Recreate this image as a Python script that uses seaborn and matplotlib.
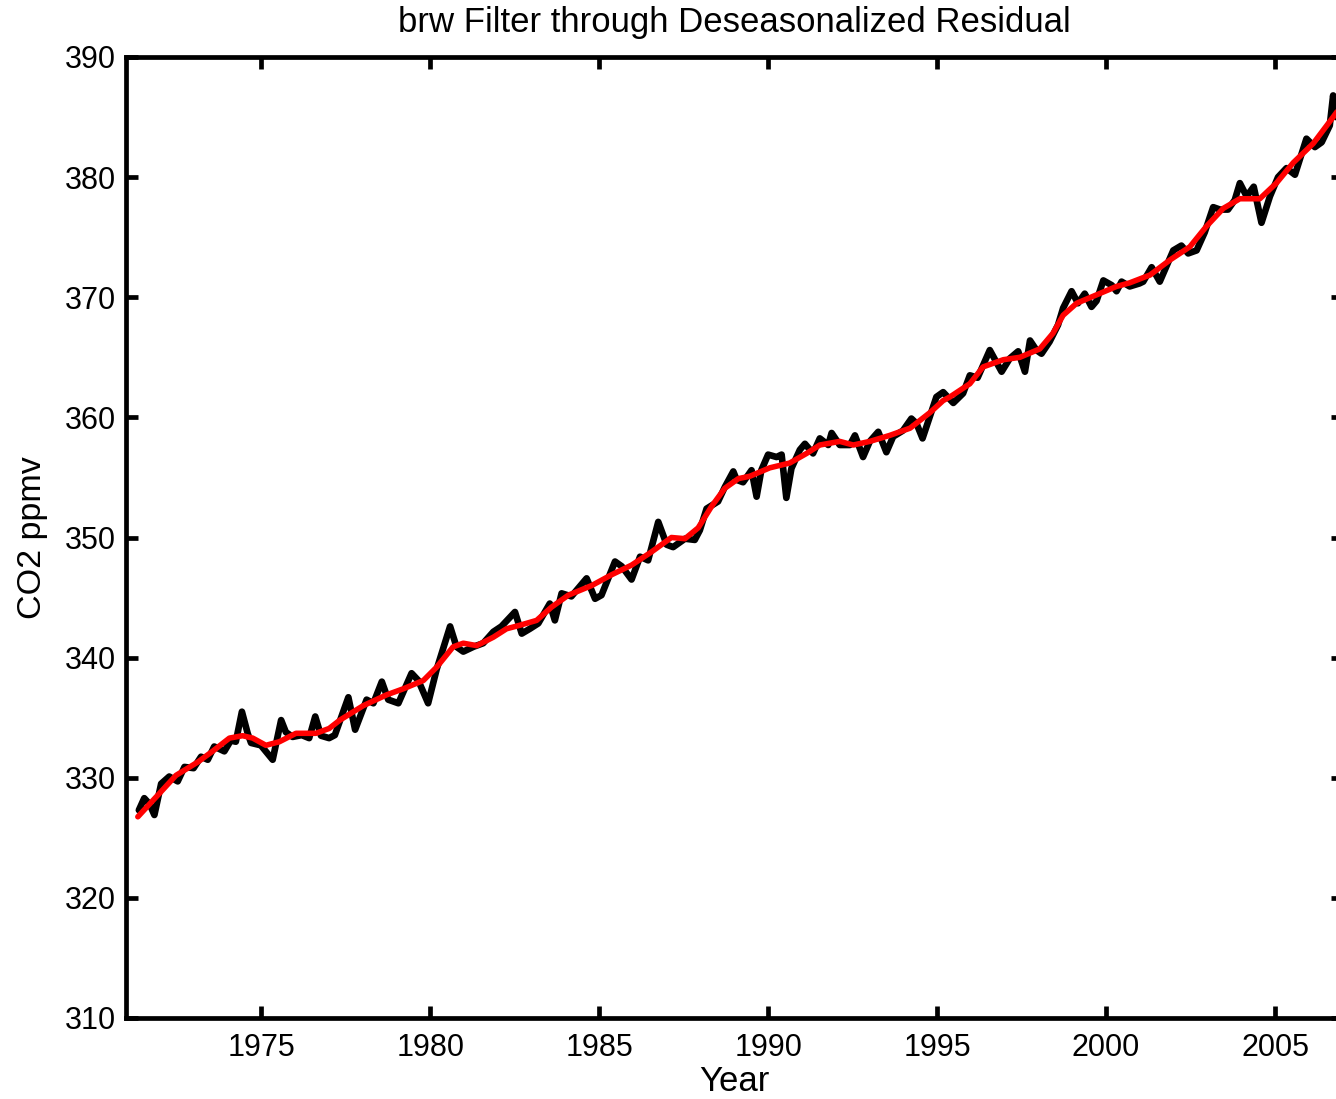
import matplotlib
matplotlib.use("Agg")
import matplotlib.pyplot as plt
import seaborn as sns
import pandas as pd

# Deseasonalized residual (black)
resid_year = [1971.38, 1971.54, 1971.70, 1971.84, 1972.04, 1972.28, 1972.53, 1972.73, 1973.00, 1973.22,
              1973.42, 1973.61, 1973.91, 1974.10, 1974.25, 1974.43, 1974.60, 1974.70, 1974.99, 1975.34,
              1975.59, 1975.73, 1975.93, 1976.20, 1976.42, 1976.60, 1976.77, 1977.01, 1977.18, 1977.58,
              1977.78, 1978.12, 1978.32, 1978.57, 1978.76, 1979.06, 1979.45, 1979.65, 1979.94, 1980.19,
              1980.59, 1980.78, 1980.98, 1981.28, 1981.57, 1981.87, 1982.11, 1982.51, 1982.71, 1982.95,
              1983.20, 1983.54, 1983.69, 1983.89, 1984.18, 1984.63, 1984.88, 1985.07, 1985.47, 1985.67,
              1985.96, 1986.21, 1986.45, 1986.75, 1987.00, 1987.19, 1987.54, 1987.83, 1987.98, 1988.18,
              1988.52, 1988.72, 1988.97, 1989.07, 1989.26, 1989.51, 1989.66, 1989.80, 1990.00, 1990.25,
              1990.40, 1990.54, 1990.69, 1990.94, 1991.09, 1991.33, 1991.53, 1991.78, 1991.88, 1992.12,
              1992.42, 1992.57, 1992.81, 1993.01, 1993.26, 1993.50, 1993.70, 1993.99, 1994.24, 1994.39,
              1994.57, 1994.79, 1994.98, 1995.18, 1995.48, 1995.77, 1995.97, 1996.20, 1996.56, 1996.91,
              1997.15, 1997.40, 1997.60, 1997.75, 1997.94, 1998.09, 1998.33, 1998.58, 1998.73, 1998.98,
              1999.17, 1999.37, 1999.57, 1999.72, 1999.92, 2000.17, 2000.31, 2000.46, 2000.70, 2000.99,
              2001.10, 2001.35, 2001.59, 2001.99, 2002.23, 2002.43, 2002.68, 2002.92, 2003.17, 2003.37,
              2003.61, 2003.81, 2003.96, 2004.16, 2004.37, 2004.60, 2004.85, 2005.09, 2005.34, 2005.59,
              2005.93, 2006.18, 2006.38, 2006.62, 2006.72, 2006.80]
resid_co2 = [327.3, 328.3, 327.8, 326.9, 329.5, 330.1, 329.7, 330.9, 330.8, 331.75,
             331.5, 332.6, 332.2, 333.1, 333.0, 335.5, 333.7, 332.9, 332.7, 331.5,
             334.8, 333.8, 333.4, 333.55, 333.3, 335.1, 333.5, 333.3, 333.55, 336.7,
             334.0, 336.5, 336.2, 338.0, 336.5, 336.2, 338.7, 338.1, 336.2, 339.0,
             342.6, 340.9, 340.5, 340.9, 341.2, 342.15, 342.6, 343.8, 342.0, 342.4,
             342.85, 344.5, 343.1, 345.35, 345.1, 346.6, 344.9, 345.2, 348.0, 347.6,
             346.5, 348.4, 348.1, 351.3, 349.4, 349.2, 349.9, 349.8, 350.6, 352.4,
             353.0, 354.2, 355.5, 354.8, 354.6, 355.6, 353.4, 355.6, 356.9, 356.7,
             356.9, 353.3, 355.75, 357.3, 357.8, 357.0, 358.25, 357.7, 358.7, 357.7,
             357.7, 358.5, 356.7, 358.0, 358.8, 357.1, 358.4, 358.9, 359.9, 359.5,
             358.25, 360.1, 361.7, 362.1, 361.2, 362.0, 363.5, 363.3, 365.6, 363.8,
             364.9, 365.5, 363.8, 366.4, 365.6, 365.3, 366.3, 367.7, 369.1, 370.5,
             369.5, 370.3, 369.2, 369.7, 371.4, 371.0, 370.5, 371.3, 370.9, 371.15,
             371.3, 372.5, 371.3, 373.9, 374.3, 373.65, 373.9, 375.4, 377.5, 377.3,
             377.3, 378.1, 379.5, 378.4, 379.2, 376.2, 378.4, 380.0, 380.75, 380.2,
             383.2, 382.5, 382.9, 384.3, 386.8, 385.0]

# Filtered curve (red)
filt_year = [1971.35, 1971.99, 1972.48, 1973.12, 1973.56, 1974.06, 1974.45, 1974.75, 1975.14, 1975.54,
             1976.03, 1976.62, 1977.01, 1977.33, 1978.02, 1978.71, 1979.20, 1979.80, 1980.19, 1980.68,
             1980.98, 1981.38, 1981.87, 1982.26, 1982.66, 1983.15, 1983.59, 1984.09, 1984.78, 1985.37,
             1985.96, 1986.55, 1987.14, 1987.54, 1987.93, 1988.33, 1988.72, 1989.12, 1989.46, 1990.05,
             1990.64, 1991.14, 1991.53, 1992.12, 1992.52, 1993.01, 1993.60, 1994.20, 1994.79, 1995.18,
             1995.38, 1995.97, 1996.36, 1996.96, 1997.45, 1998.04, 1998.43, 1998.73, 1999.13, 1999.72,
             2000.31, 2000.70, 2001.30, 2001.89, 2002.48, 2002.97, 2003.47, 2003.96, 2004.55, 2005.04,
             2005.54, 2006.13, 2006.72, 2006.85]
filt_co2 = [326.75, 328.7, 330.2, 331.3, 332.2, 333.3, 333.5, 333.3, 332.7, 333.0,
            333.7, 333.7, 334.1, 334.8, 336.0, 336.9, 337.4, 338.1, 339.2, 340.9,
            341.2, 341.0, 341.7, 342.4, 342.7, 343.1, 344.2, 345.2, 346.0, 346.9,
            347.7, 348.8, 350.0, 349.9, 350.8, 352.6, 354.1, 354.9, 355.1, 355.8,
            356.2, 357.0, 357.7, 358.0, 357.7, 358.0, 358.5, 359.1, 360.4, 361.4,
            361.7, 362.8, 364.2, 364.8, 365.0, 365.7, 367.0, 368.5, 369.5, 370.2,
            370.9, 371.2, 371.85, 373.1, 374.2, 375.9, 377.4, 378.2, 378.2, 379.5,
            381.2, 382.8, 385.0, 385.5]

x_ticks = [1975, 1980, 1985, 1990, 1995, 2000, 2005]
y_ticks = [310, 320, 330, 340, 350, 360, 370, 380, 390]

sns.set_theme(style="ticks")
plt.rcParams['font.family'] = ['Liberation Sans', 'DejaVu Sans']

fig = plt.figure(figsize=(13.36, 10.99), dpi=100)
W, H = 1336, 1099
left_px, right_px, top_px, bottom_px = 126, 1342.6, 57, 1018
ax = fig.add_axes([left_px / W, 1 - bottom_px / H, (right_px - left_px) / W, (bottom_px - top_px) / H])

df_r = pd.DataFrame({"Year": resid_year, "CO2": resid_co2})
df_f = pd.DataFrame({"Year": filt_year, "CO2": filt_co2})
sns.lineplot(data=df_r, x="Year", y="CO2", color="black", linewidth=4.8, ax=ax,
             estimator=None, sort=False, solid_joinstyle="round", solid_capstyle="round")
sns.lineplot(data=df_f, x="Year", y="CO2", color="#ff0000", linewidth=4.0, ax=ax,
             estimator=None, sort=False, solid_joinstyle="round", solid_capstyle="round")

ax.set_xlim(1971, 2007)
ax.set_ylim(310, 390)
ax.set_xticks(x_ticks)
ax.set_xticklabels([str(v) for v in x_ticks])
ax.set_yticks(y_ticks)
ax.set_yticklabels([str(v) for v in y_ticks])

for s in ax.spines.values():
    s.set_visible(True)
    s.set_linewidth(3.4)
    s.set_color("black")
ax.tick_params(axis="both", which="major", direction="in", length=8.5, width=3.4,
               labelsize=22, colors="black", top=True, right=True)
ax.tick_params(axis="x", pad=11)
ax.tick_params(axis="y", pad=7)

ax.set_xlabel("Year", fontsize=25, labelpad=1, color="black")
ax.set_ylabel("CO2 ppmv", fontsize=24.5, labelpad=12, color="black")
ax.set_title("brw Filter through Deseasonalized Residual", fontsize=25, pad=18, color="black")
ax.grid(False)

fig.savefig("out.png", dpi=100)
